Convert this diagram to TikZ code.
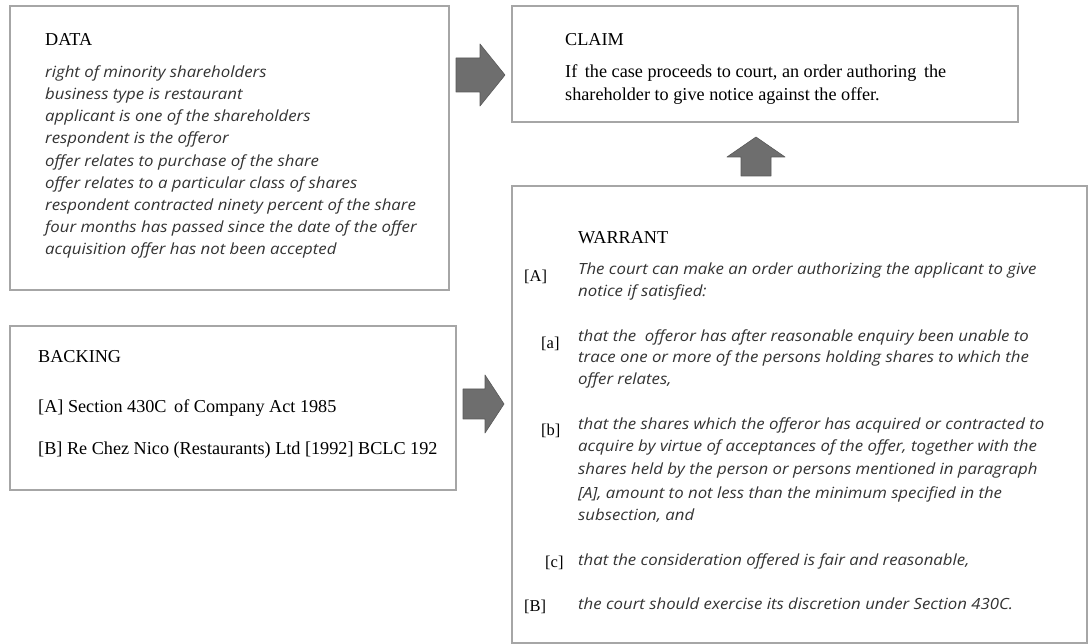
\documentclass[tikz,border=0pt]{standalone}
\usepackage{fontspec}
\setmainfont{Liberation Serif}
\newfontfamily\notefont{Open Sans}[ItalicFont=* Italic,FakeStretch=1.09]
\begin{document}
\begin{tikzpicture}[x=1pt,y=-1pt,
  panel/.style={draw=black!35,line width=1.3pt},
  blockarrow/.style={fill=black!57,draw=black!65,line width=0.6pt,line join=round},
  head/.style={anchor=base west,inner sep=0pt,font=\fontsize{18.2}{20}\selectfont},
  plain/.style={anchor=base west,inner sep=0pt,font=\fontsize{18.2}{20}\selectfont},
  note/.style={anchor=base west,inner sep=0pt,text=black!80,font=\notefont\itshape\fontsize{15.4}{20}\selectfont},
  tag/.style={anchor=base west,inner sep=0pt,font=\fontsize{16.5}{20}\selectfont}]
\useasboundingbox[fill=white] (0,0) rectangle (1088,644);

% panels
\draw[panel] (10,6) rectangle (449,290);
\draw[panel] (512,6) rectangle (1018,122);
\draw[panel] (10,326) rectangle (456,490);
\draw[panel] (512,186) -- (1087,186) -- (1087,643) -- (512,643) -- cycle;

% block arrows
\draw[blockarrow] (456,58) -- (480,58) -- (480,44) -- (505,75) -- (480,106) -- (480,92) -- (456,92) -- cycle;
\draw[blockarrow] (741,176) -- (741,157) -- (727,157) -- (756,137) -- (785,157) -- (771,157) -- (771,176) -- cycle;
\draw[blockarrow] (463,389) -- (485,389) -- (485,375) -- (504,404) -- (485,433) -- (485,419) -- (463,419) -- cycle;

% data
\node[head] (dh) at (45,46) {DATA};
\node[note] (d1) at (45,78) {right of minority shareholders};
\node[note] (d2) at (45,100) {business type is restaurant};
\node[note] (d3) at (45,122) {applicant is one of the shareholders};
\node[note] (d4) at (45,144) {respondent is the offeror};
\node[note] (d5) at (45,167) {offer relates to purchase of the share};
\node[note] (d6) at (45,189) {offer relates to a particular class of shares};
\node[note] (d7) at (45,211) {respondent contracted ninety percent of the share};
\node[note] (d8) at (45,233) {four months has passed since the date of the offer};
\node[note] (d9) at (45,255) {acquisition offer has not been accepted};

% claim
\node[head] (ch) at (565,46) {CLAIM};
\node[plain] (c1) at (565,78) {If\, the case proceeds to court, an order authoring\, the};
\node[plain] (c2) at (565,101) {shareholder to give notice against the offer.};

% backing
\node[head] (bh) at (38,363) {BACKING};
\node[plain] (b1) at (38,413) {[A] Section 430C\, of Company Act 1985};
\node[plain] (b2) at (38,454) {[B] Re Chez Nico (Restaurants) Ltd [1992] BCLC 192};

% warrant
\node[head] (wh) at (578,244) {WARRANT};
\node[tag] (tA) at (524,282) {[A]};
\node[note] (wA1) at (578,275) {The court can make an order authorizing the applicant to give};
\node[note] (wA2) at (578,297) {notice if satisfied:};
\node[tag] (ta) at (541,349) {[a]};
\node[note] (wa1) at (578,342) {that the\; offeror has after reasonable enquiry been unable to};
\node[note] (wa2) at (578,363) {trace one or more of the persons holding shares to which the};
\node[note] (wa3) at (578,385) {offer relates,};
\node[tag] (tb) at (541,436) {[b]};
\node[note] (wb1) at (578,430) {that the shares which the offeror has acquired or contracted to};
\node[note] (wb2) at (578,452) {acquire by virtue of acceptances of the offer, together with the};
\node[note] (wb3) at (578,475) {shares held by the person or persons mentioned in paragraph};
\node[note] (wb4) at (578,498) {[A], amount to not less than the minimum specified in the};
\node[note] (wb5) at (578,520) {subsection, and};
\node[tag] (tc) at (545,567) {[c]};
\node[note] (wc1) at (578,565) {that the consideration offered is fair and reasonable,};
\node[tag] (tB) at (524,611) {[B]};
\node[note] (wB1) at (578,609) {the court should exercise its discretion under Section 430C.};
\end{tikzpicture}
\end{document}
